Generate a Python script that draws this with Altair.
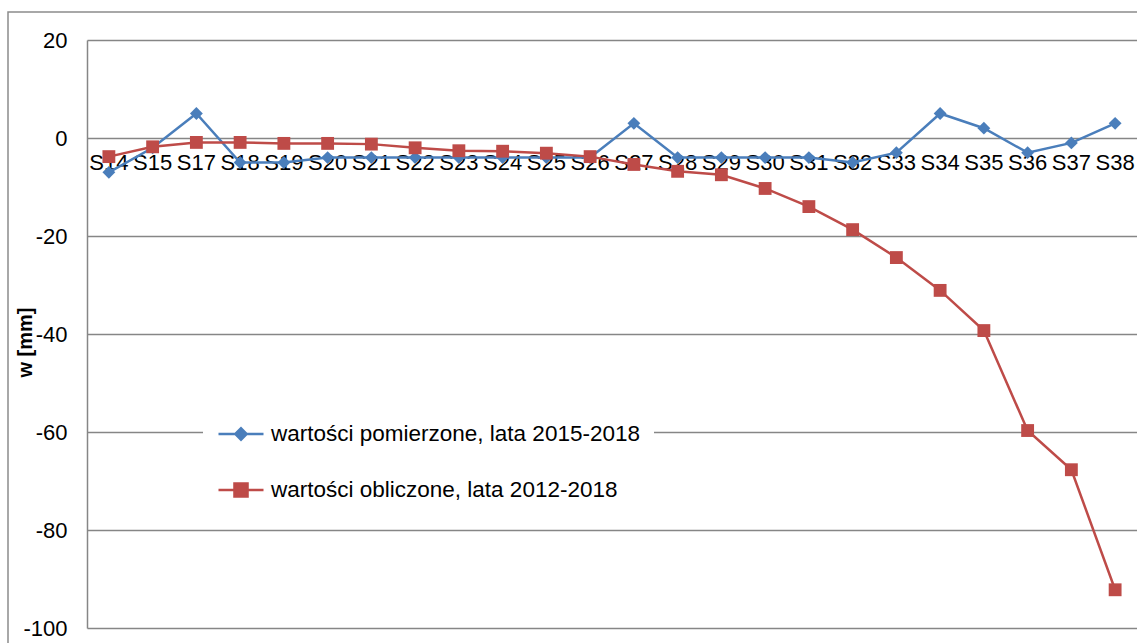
import altair as alt
import pandas as pd

stations = ["S14", "S15", "S17", "S18", "S19", "S20", "S21", "S22", "S23", "S24",
            "S25", "S26", "S27", "S28", "S29", "S30", "S31", "S32", "S33", "S34",
            "S35", "S36", "S37", "S38"]
measured = [-7, -2, 5, -5, -5, -4, -4, -4, -4, -4, -4, -4, 3, -4, -4, -4, -4, -5,
            -3, 5, 2, -3, -1, 3]
computed = [-3.8, -1.8, -0.9, -0.9, -1.1, -1.1, -1.25, -2.0, -2.6, -2.7, -3.1, -3.8,
            -5.4, -6.8, -7.5, -10.3, -14.0, -18.7, -24.4, -31.1, -39.3, -59.7, -67.7, -92.2]
series_names = ["wartości pomierzone, lata 2015-2018", "wartości obliczone, lata 2012-2018"]
colors = ["#4A7EBB", "#BE4B48"]
y_ticks = [-100, -80, -60, -40, -20, 0, 20]

rows = []
for i, s in enumerate(stations):
    rows.append({"station": s, "idx": i, "value": measured[i], "series": series_names[0]})
for i, s in enumerate(stations):
    rows.append({"station": s, "idx": i, "value": computed[i], "series": series_names[1]})
df = pd.DataFrame(rows)
df_st = pd.DataFrame({"station": stations})

FONT = "Liberation Sans"
GRID = "#868686"

x_enc = alt.X("station:N", sort=stations, scale=alt.Scale(type="point", padding=0.5), axis=None)
y_scale = alt.Scale(domain=[-100, 20], nice=False, zero=False)
y_enc = alt.Y("value:Q", scale=y_scale,
              axis=alt.Axis(values=y_ticks, grid=True, gridColor=GRID, gridWidth=1.5,
                            domainColor=GRID, domainWidth=1.5, ticks=False,
                            labelExpr="toString(datum.value)",
                            labelFont=FONT, labelFontSize=22, labelColor="black",
                            labelPadding=20, title="w [mm]", titleFont=FONT,
                            titleFontSize=20, titleFontWeight="bold", titleColor="black",
                            titleAngle=270, titleX=-56, titleY=302,
                            titleBaseline="alphabetic", titleAlign="center"))

color_scale = alt.Scale(domain=series_names, range=colors)

border = alt.Chart(pd.DataFrame({"k": [0]})).mark_rect(
    fillOpacity=0, stroke="#8C8C8C", strokeWidth=1.5
).encode(x=alt.value(-79), x2=alt.value(1300), y=alt.value(-28), y2=alt.value(800))

labels = alt.Chart(df_st).mark_text(
    font=FONT, fontSize=22, baseline="alphabetic", align="center", dy=32, color="black"
).encode(x=x_enc, y=alt.datum(0), text="station:N")

lines = alt.Chart(df).mark_line(strokeWidth=2.5).encode(
    x=x_enc, y=y_enc,
    color=alt.Color("series:N", scale=color_scale, legend=None),
    order=alt.Order("idx:Q"),
)

points = alt.Chart(df).mark_point(filled=True, size=165, opacity=1).encode(
    x=x_enc, y=y_enc,
    color=alt.Color("series:N", scale=color_scale, legend=None),
    shape=alt.Shape("series:N", scale=alt.Scale(domain=series_names, range=["diamond", "square"]), legend=None),
)

path_d = "M-1,0L-0.25,0M-0.25,0L0,-0.25L0.25,0L0,0.25ZM0.25,0L1,0"
path_s = "M-1,0L-0.29,0M-0.29,-0.29L0.29,-0.29L0.29,0.29L-0.29,0.29ZM0.29,0L1,0"

leg = alt.Legend(title=None, orient="none", legendX=116, legendY=356, fillColor="white",
                 padding=14, symbolSize=2025, symbolStrokeWidth=2.5, symbolOpacity=1,
                 labelFont=FONT, labelFontSize=22.5, labelColor="black", labelOffset=6,
                 labelLimit=0, rowPadding=20)

legend_layer = alt.Chart(df).transform_filter("false").mark_point(
    filled=True, opacity=1, strokeWidth=2.5
).encode(
    color=alt.Color("series:N", scale=color_scale, legend=leg),
    stroke=alt.Stroke("series:N", scale=color_scale, legend=leg),
    shape=alt.Shape("series:N", scale=alt.Scale(domain=series_names, range=[path_d, path_s]), legend=leg),
)

chart = alt.layer(border, labels, lines, points, legend_layer).resolve_scale(
    color="independent", shape="independent", stroke="independent"
).properties(
    width=1050, height=588,
    autosize=alt.AutoSizeParams(type="none"),
    padding={"left": 87, "top": 40, "right": 0, "bottom": 15},
    background="white",
).configure_view(stroke=None)

chart.save("out.html", embed_options={"renderer": "svg", "actions": False})
